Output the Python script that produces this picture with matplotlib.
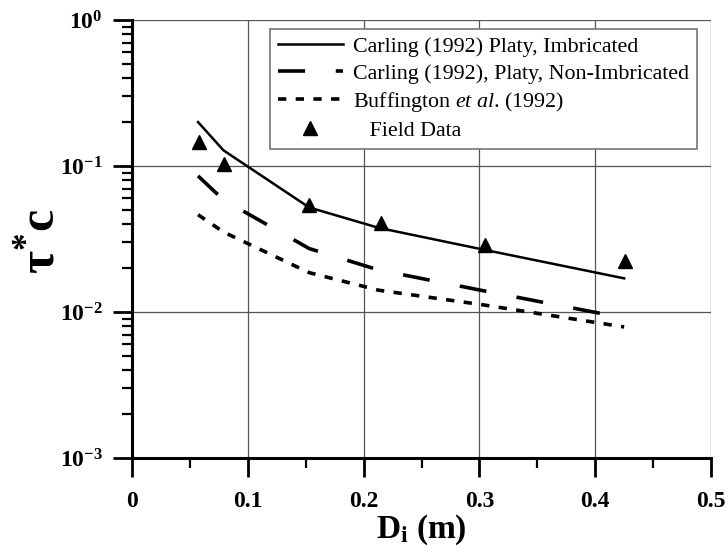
import matplotlib.pyplot as plt
from matplotlib.ticker import LogLocator, MultipleLocator, FixedLocator, NullFormatter

plt.rcParams['font.family'] = 'Liberation Serif'
plt.rcParams['mathtext.fontset'] = 'custom'
plt.rcParams['mathtext.rm'] = 'Liberation Serif'
plt.rcParams['mathtext.bf'] = 'Liberation Serif:bold'
plt.rcParams['mathtext.it'] = 'Liberation Serif:italic'

# grain size D_i (m) used for the field measurements and the model curves
d_i = [0.057, 0.079, 0.153, 0.213, 0.303, 0.425]
carling_imbricated = [0.200, 0.128, 0.052, 0.0377, 0.0268, 0.0170]
carling_non_imbricated = [0.0855, 0.0586, 0.0272, 0.0194, 0.0140, 0.0091]
buffington = [0.0464, 0.0353, 0.0186, 0.0141, 0.0112, 0.0079]

field_d = [0.058, 0.0795, 0.153, 0.215, 0.305, 0.426]
field_tau = [0.146, 0.103, 0.0537, 0.0407, 0.0286, 0.0223]

x_ticks = [0, 0.1, 0.2, 0.3, 0.4, 0.5]
x_tick_labels = ['0', '0.1', '0.2', '0.3', '0.4', '0.5']
y_ticks = [1e-3, 1e-2, 1e-1, 1e0]
y_tick_labels = [r'$\mathbf{10^{-3}}$', r'$\mathbf{10^{-2}}$', r'$\mathbf{10^{-1}}$', r'$\mathbf{10^{0}}$']

fig = plt.figure(figsize=(7.27, 5.5), dpi=100)
ax = fig.add_axes([0.1816, 0.1673, 0.7964, 0.7963])

ax.plot(d_i, carling_imbricated, color='black', lw=1.8,
        label='Carling (1992) Platy, Imbricated')
ax.plot(d_i, carling_non_imbricated, color='black', lw=2.6, dashes=(7.5, 8.5),
        label='Carling (1992), Platy, Non-Imbricated')
ax.plot(d_i, buffington, color='black', lw=2.6, dashes=(2.3, 2.6),
        label='Buffington $\\it{et\\ al}$. (1992)')
ax.plot(field_d, field_tau, linestyle='none', marker='^', color='black',
        markersize=10, label='   Field Data')

ax.set_yscale('log')
ax.set_xlim(0, 0.5)
ax.set_ylim(1e-3, 1)

ax.xaxis.set_major_locator(FixedLocator(x_ticks))
ax.xaxis.set_minor_locator(MultipleLocator(0.05))
ax.set_xticklabels(x_tick_labels, fontweight='bold', fontsize=17)
ax.yaxis.set_major_locator(FixedLocator(y_ticks))
ax.yaxis.set_minor_locator(LogLocator(base=10, subs=range(2, 10)))
ax.yaxis.set_minor_formatter(NullFormatter())
ax.set_yticklabels(y_tick_labels, fontsize=17)

ax.tick_params(axis='both', which='major', direction='out', length=14, width=2)
ax.tick_params(axis='both', which='minor', direction='out', length=7, width=1.6)
ax.tick_params(axis='x', which='major', pad=10)
ax.tick_params(axis='y', which='major', pad=7)

for side in ['top', 'right']:
    ax.spines[side].set_visible(False)
for side in ['left', 'bottom']:
    ax.spines[side].set_linewidth(2.2)

ax.grid(True, which='major', color='#555555', lw=0.9)
ax.set_axisbelow(True)

ax.set_xlabel(r'$\mathbf{D_i}$ (m)', fontsize=24, fontweight='bold', labelpad=0)
ax.set_ylabel(r'$\mathbf{τ^{*}c}$', fontsize=36)
ax.yaxis.label.set_va('center')
ax.yaxis.set_label_coords(-0.156, 0.495)

leg = ax.legend(loc='upper right', bbox_to_anchor=(0.976, 0.98), borderaxespad=0,
                fontsize=15.8, frameon=True, fancybox=False, handlelength=3.0,
                handletextpad=0.45, labelspacing=0.29, borderpad=0.36)
leg.get_frame().set_edgecolor('#777777')
leg.get_frame().set_linewidth(1.2)
leg.get_frame().set_alpha(1)

fig.savefig('out.png', dpi=100)
